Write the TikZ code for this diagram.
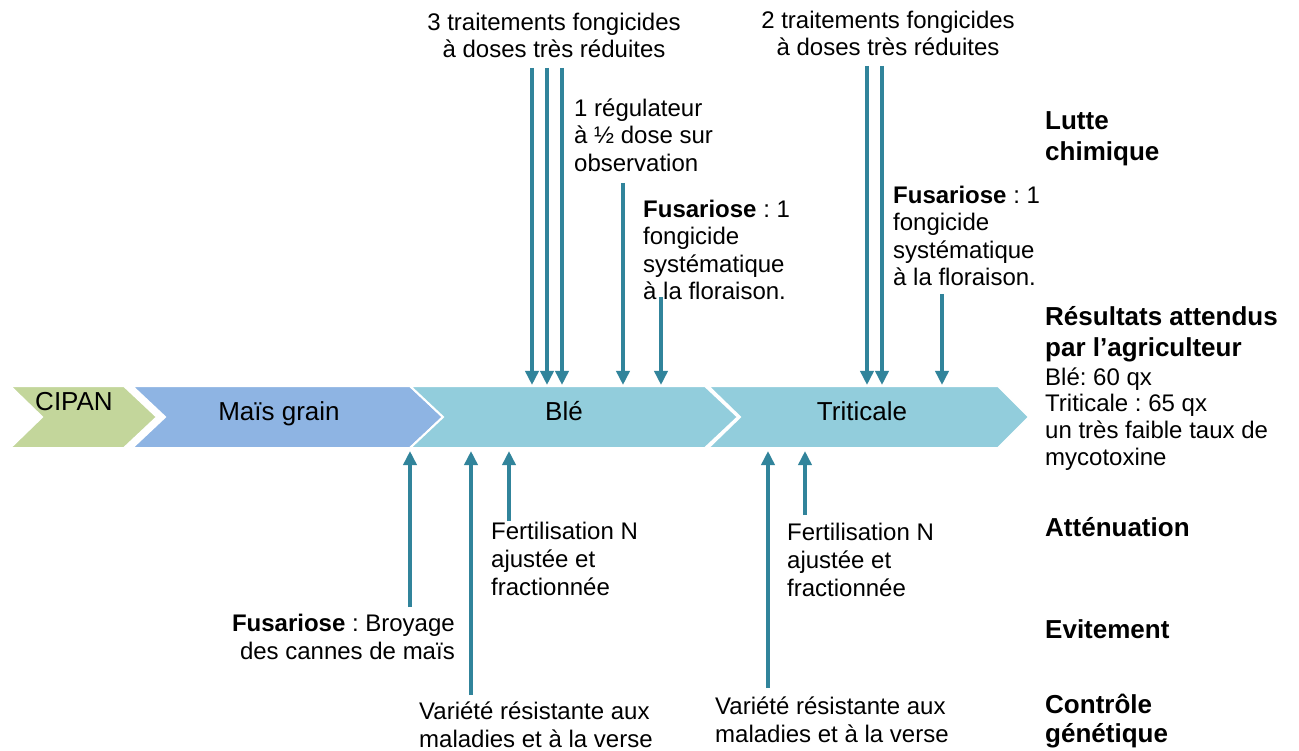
\documentclass[tikz,border=0pt]{standalone}
\usepackage{fontspec}
\setmainfont{Liberation Sans}
\usetikzlibrary{arrows.meta}
\definecolor{cgreen}{HTML}{C3D69B}
\definecolor{cblue}{HTML}{8EB4E3}
\definecolor{cteal}{HTML}{92CDDC}
\definecolor{carrow}{HTML}{31849B}
\newcommand{\fsa}{\rule{0pt}{22pt}}
\newcommand{\fsb}{\rule{0pt}{24pt}}
\frenchspacing
\begin{document}
\begin{tikzpicture}[x=1pt,y=-1pt,
  chev/.style={draw=white, line width=2pt},
  arr/.style={draw=carrow, line width=3.5pt, -{Triangle[width=13pt,length=14pt]}},
  txt/.style={inner sep=0pt, font=\fontsize{24}{27.6}\selectfont\frenchspacing, align=left},
  txtb/.style={inner sep=0pt, font=\fontsize{24}{26.7}\selectfont\frenchspacing, align=left},
  hd/.style={inner sep=0pt, font=\fontsize{26}{31}\selectfont\bfseries, align=left},
  lab/.style={inner sep=0pt, font=\fontsize{26}{30}\selectfont, anchor=base}]
\useasboundingbox[fill=white] (0,0) rectangle (1299,751);

% chevrons
\path[fill=cgreen, chev] (10,386) -- (124,386) -- (157,417) -- (124,448) -- (10,448) -- (42,417) -- cycle;
\path[fill=cblue, chev] (132,386) -- (410,386) -- (443,417) -- (410,448) -- (132,448) -- (165,417) -- cycle;
\path[fill=cteal, chev] (410,386) -- (705,386) -- (738,417) -- (705,448) -- (410,448) -- (443,417) -- cycle;
\path[fill=cteal, chev] (708,386) -- (998,386) -- (1029,417) -- (998,448) -- (708,448) -- (740,417) -- cycle;

\node[lab] (cipan) at (74,410) {CIPAN};
\node[lab] (mais) at (279,420) {Maïs grain};
\node[lab] (ble) at (564,420) {Blé};
\node[lab] (trit) at (862,420) {Triticale};

% top texts
\node[txt, align=center, anchor=north] (t3) at (554,8) {\fsa 3 traitements fongicides\\à doses très réduites};
\node[txt, anchor=north west] (reg) at (574,94) {\fsa 1 régulateur\\à ½ dose sur\\observation};
\node[txt, anchor=north west] (fusB) at (643,195) {\fsa\textbf{Fusariose} : 1\\fongicide\\systématique\\à la floraison.};
\node[txt, align=center, anchor=north] (t2) at (888,6) {\fsa 2 traitements fongicides\\à doses très réduites};
\node[txt, anchor=north west] (fusT) at (893,181) {\fsa\textbf{Fusariose} : 1\\fongicide\\systématique\\à la floraison.};

% bottom texts
\node[txt, anchor=north west, font=\fontsize{24}{28}\selectfont] (fertB) at (491,517) {\fsa Fertilisation N\\ajustée et\\fractionnée};
\node[txt, anchor=north west, font=\fontsize{24}{28}\selectfont] (fertT) at (787,518) {\fsa Fertilisation N\\ajustée et\\fractionnée};
\node[txt, align=right, anchor=north east, font=\fontsize{24}{28}\selectfont] (broy) at (455,609) {\fsa\textbf{Fusariose} : Broyage\\des cannes de maïs};
\node[txt, anchor=north west, font=\fontsize{24}{28}\selectfont] (varB) at (419,697) {\fsa Variété résistante aux\\maladies et à la verse};
\node[txt, anchor=north west, font=\fontsize{24}{28}\selectfont] (varT) at (715,692) {\fsa Variété résistante aux\\maladies et à la verse};

% right column
\node[hd, anchor=north west] (lutte) at (1045,105) {\fsb Lutte\\chimique};
\node[hd, anchor=north west] (res) at (1045,301) {\fsb Résultats attendus\\par l’agriculteur};
\node[txtb, anchor=north west] (resv) at (1045,363) {\fsa Blé: 60 qx\\Triticale : 65 qx\\un très faible taux de\\mycotoxine};
\node[hd, anchor=north west] (att) at (1045,512) {\fsb Atténuation};
\node[hd, anchor=north west] (evit) at (1045,614) {\fsb Evitement};
\node[hd, anchor=north west, font=\fontsize{26}{29}\selectfont\bfseries] (ctrl) at (1045,689) {\fsb Contrôle\\génétique};

% arrow coordinates (down)
\coordinate (d1s) at (532,68);  \coordinate (d1e) at (532,385);
\coordinate (d2s) at (547,68);  \coordinate (d2e) at (547,385);
\coordinate (d3s) at (562,68);  \coordinate (d3e) at (562,385);
\coordinate (d4s) at (623,183); \coordinate (d4e) at (623,385);
\coordinate (d5s) at (661,297); \coordinate (d5e) at (661,385);
\coordinate (d6s) at (867,66);  \coordinate (d6e) at (867,385);
\coordinate (d7s) at (882,66);  \coordinate (d7e) at (882,385);
\coordinate (d8s) at (942,294); \coordinate (d8e) at (942,385);
% arrow coordinates (up)
\coordinate (u1s) at (410,607); \coordinate (u1e) at (410,451);
\coordinate (u2s) at (471,695); \coordinate (u2e) at (471,451);
\coordinate (u3s) at (509,521); \coordinate (u3e) at (509,451);
\coordinate (u4s) at (768,688); \coordinate (u4e) at (768,451);
\coordinate (u5s) at (805,515); \coordinate (u5e) at (805,451);

\foreach \n in {d1,d2,d3,d4,d5,d6,d7,d8,u1,u2,u3,u4,u5}
  \draw[arr] (\n s) -- (\n e);
\end{tikzpicture}
\end{document}
